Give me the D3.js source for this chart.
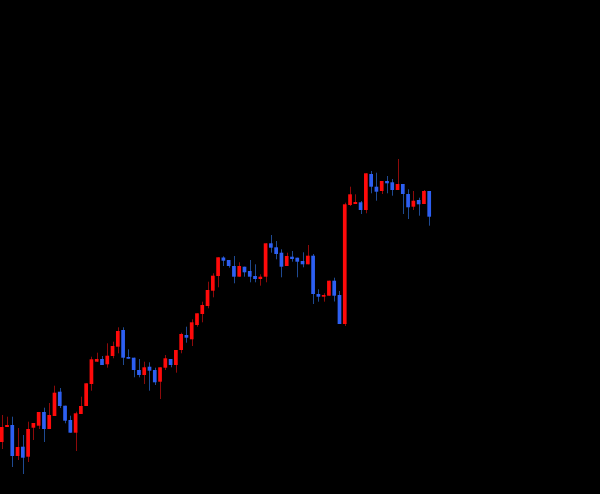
<!DOCTYPE html>
<html>
<head>
<meta charset="utf-8">
<script src="https://cdn.jsdelivr.net/npm/d3@7"></script>
<style>
html,body{margin:0;padding:0;background:#000;overflow:hidden;}
svg{display:block;}
</style>
</head>
<body>
<svg id="chart" width="600" height="494"></svg>
<script>
const openVals  = [5.80,7.30,7.50,4.40,5.33,4.33,7.23,7.43,8.80,7.10,8.40,10.83,9.43,8.00,6.73,8.60,9.40,11.60,13.83,14.10,13.57,14.40,15.33,17.00,14.30,14.23,13.00,12.50,13.33,13.00,11.83,13.23,14.10,13.50,15.00,16.50,16.07,17.50,18.60,19.40,20.93,22.40,24.25,24.00,23.40,22.33,23.33,22.90,22.40,22.10,22.33,25.67,25.27,24.73,23.40,24.33,24.23,23.90,23.57,24.43,20.60,20.33,20.43,21.93,20.50,17.60,29.50,29.60,29.77,29.00,32.60,31.33,30.90,31.90,31.77,31.00,31.60,30.60,29.33,30.00,29.60,30.90];
const closeVals = [7.30,7.50,4.40,5.30,4.23,7.10,7.70,8.80,7.10,8.50,10.73,9.40,7.93,6.73,8.67,9.40,11.67,14.07,14.10,13.50,14.43,15.40,16.90,14.23,14.13,13.00,12.50,13.27,12.93,11.77,13.27,14.17,13.50,15.00,16.60,16.23,17.77,18.67,19.50,21.00,22.43,24.27,23.93,23.40,22.33,23.40,22.77,22.33,22.10,22.33,25.67,25.23,24.60,23.33,24.40,24.10,23.83,23.57,24.43,20.60,20.33,20.50,21.93,20.43,17.60,29.57,30.57,29.80,29.00,32.67,31.33,30.83,31.90,31.67,31.00,31.60,30.60,29.27,29.93,29.57,30.90,28.33];
const highVals  = [8.50,8.33,8.33,7.20,6.50,7.83,7.70,8.80,9.23,9.70,11.43,11.20,9.43,8.43,8.83,10.33,11.67,14.33,14.73,14.40,15.67,15.83,17.27,17.27,15.07,14.23,14.10,13.83,13.77,13.23,13.27,14.50,14.10,15.00,16.73,17.33,18.07,18.67,19.83,21.83,22.67,24.27,24.37,24.00,24.40,23.77,23.33,24.00,23.57,22.57,25.67,26.50,25.90,25.07,24.73,24.90,24.23,24.77,25.50,24.60,21.07,20.67,21.93,22.23,20.90,29.73,31.33,30.57,29.90,32.67,32.90,32.73,31.90,32.40,32.10,34.10,31.60,31.07,30.90,30.23,31.00,30.90];
const lowVals   = [5.10,7.30,3.30,4.00,2.60,3.80,6.00,7.10,5.80,7.10,8.40,9.20,7.67,6.73,4.90,8.60,9.40,10.93,13.83,13.50,13.23,14.17,14.67,13.50,14.13,12.27,12.27,11.60,10.93,11.50,10.10,13.00,13.27,12.73,14.67,15.73,15.40,17.33,17.77,19.17,20.27,21.27,23.40,23.23,21.67,22.33,22.33,21.77,21.77,21.43,21.77,24.73,24.07,22.27,23.40,23.83,22.27,23.27,23.57,19.60,19.83,19.83,20.43,19.85,17.60,17.40,29.40,29.60,28.60,28.67,30.67,29.93,30.60,30.67,30.43,31.00,28.60,28.10,29.00,28.43,29.60,27.43];

const data = openVals.map((o,i)=>({i, o, c:closeVals[i], h:highVals[i], l:lowVals[i]}));

const svg = d3.select("#chart");
svg.append("rect").attr("width",600).attr("height",494).attr("fill","#000");

const x = d3.scaleLinear().domain([0, data.length-1]).range([1.72, 429.2]);
const y = d3.scaleLinear().domain([0, 50]).range([500, 0]);

const upBody="#ff0a0a", downBody="#2d5ff2", upWick="#8e0a0a", downWick="#1f4a92";
const bw = 3.7;

const g = svg.append("g");
const c = g.selectAll("g.candle").data(data).join("g").attr("class","candle");

c.append("line")
  .attr("x1", d=>Math.round(x(d.i))+0.5)
  .attr("x2", d=>Math.round(x(d.i))+0.5)
  .attr("y1", d=>y(d.h))
  .attr("y2", d=>y(d.l))
  .attr("stroke", d=>d.c>=d.o?upWick:downWick)
  .attr("stroke-width",1);

c.append("rect")
  .attr("x", d=>x(d.i)-bw/2)
  .attr("width", bw)
  .attr("y", d=>y(Math.max(d.o,d.c)))
  .attr("height", d=>Math.max(1.5, Math.abs(y(d.o)-y(d.c))))
  .attr("fill", d=>d.c>=d.o?upBody:downBody);
</script>
</body>
</html>
